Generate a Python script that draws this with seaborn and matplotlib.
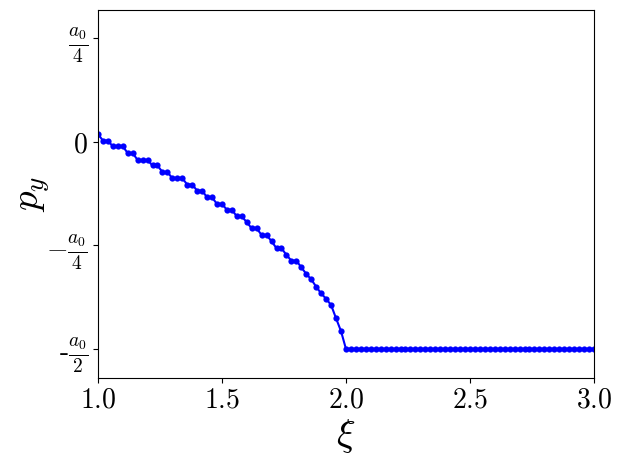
import numpy as np
import pandas as pd
import seaborn as sns
import matplotlib.pyplot as plt

plt.rcParams['mathtext.fontset'] = 'cm'
plt.rcParams['font.family'] = ['cmr10', 'DejaVu Sans']
plt.rcParams['axes.unicode_minus'] = False
plt.rcParams['axes.formatter.use_mathtext'] = True

a0 = 1.0

# xi values: 1.00, 1.02, ..., 3.00
xi = [round(1.0 + 0.02 * i, 2) for i in range(101)]

# p_y (in units of a0), first 50 points, then the flat part
py_head = [
    0.019, 0.003, 0.003, -0.011, -0.011, -0.011, -0.027, -0.027, -0.044, -0.044,
    -0.044, -0.057, -0.057, -0.073, -0.073, -0.088, -0.088, -0.088, -0.103, -0.103,
    -0.118, -0.118, -0.134, -0.134, -0.150, -0.150, -0.164, -0.164, -0.180, -0.180,
    -0.194, -0.209, -0.209, -0.225, -0.225, -0.240, -0.257, -0.257, -0.273, -0.287,
    -0.287, -0.303, -0.319, -0.332, -0.350, -0.366, -0.379, -0.394, -0.426, -0.457,
]
py_tail = [-0.5] * 51
py = py_head + py_tail

df = pd.DataFrame({'xi': xi, 'py': py})

fig = plt.figure(figsize=(6.2, 4.62), dpi=100)
ax = fig.add_axes([0.158, 0.182, 0.8, 0.796])

sns.lineplot(data=df, x='xi', y='py', color='blue', marker='o',
             markersize=4.5, markeredgewidth=0, linewidth=1.5, ax=ax)

ax.set_xlim(1.0, 3.0)
ax.set_ylim(-0.57, 0.318)

ax.set_xticks([1.0, 1.5, 2.0, 2.5, 3.0])
ax.set_xticklabels([r'$1.0$', r'$1.5$', r'$2.0$', r'$2.5$', r'$3.0$'], fontsize=20)
ax.set_yticks([a0 / 4, 0, -a0 / 4, -a0 / 2])
ax.set_yticklabels([r'$\frac{a_0}{4}$', r'$0$', r'$-\frac{a_0}{4}$',
                    r'-$\frac{a_0}{2}$'], fontsize=20)

ax.set_xlabel(r'$\xi$', fontsize=28, labelpad=2)
ax.set_ylabel(r'$p_y$', fontsize=28, labelpad=-4)

fig.savefig('out.png', dpi=100)
